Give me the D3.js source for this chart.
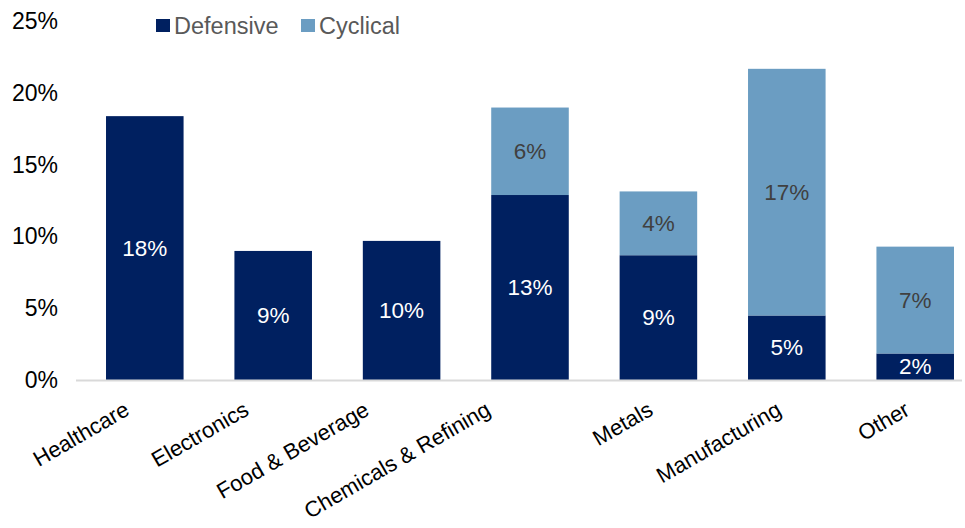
<!DOCTYPE html>
<html>
<head>
<meta charset="utf-8">
<script src="https://cdn.jsdelivr.net/npm/d3@7"></script>
<style>
  html, body { margin: 0; padding: 0; background: #fff; }
  svg { display: block; font-family: "Liberation Sans", Arial, sans-serif; }
</style>
</head>
<body>
<div id="chart"></div>
<script>
// chart data (percent)
var categories = ["Healthcare", "Electronics", "Food & Beverage", "Chemicals & Refining", "Metals", "Manufacturing", "Other"];
var defensive = [18.4, 9.0, 9.7, 12.9, 8.7, 4.5, 1.85];
var cyclical = [0, 0, 0, 6.1, 4.45, 17.2, 7.45];
var seriesNames = ["Defensive", "Cyclical"];
var yTicks = [0, 5, 10, 15, 20, 25];

// Excel pushes the first few rotated labels to the left
var labelNudge = [-10, -19, -27, -34, 0, 0, 0];

var width = 965, height = 528;
var colors = { Defensive: "#002060", Cyclical: "#6B9DC2" };

var svg = d3.select("#chart").append("svg")
    .attr("width", width)
    .attr("height", height);

var x = d3.scaleBand()
    .domain(categories)
    .range([96, 964])
    .paddingInner(0.396)
    .paddingOuter(0.078);

var y = d3.scaleLinear()
    .domain([0, 25])
    .range([380, 21.5]);

// stack the two series
var rows = categories.map(function (c, i) {
    return { cat: c, Defensive: defensive[i], Cyclical: cyclical[i] };
});
var stacked = d3.stack().keys(seriesNames)(rows);

// y axis labels (no line, no ticks)
var yAxis = svg.append("g")
    .attr("transform", "translate(58,0)")
    .call(d3.axisLeft(y).tickValues(yTicks).tickFormat(function (d) { return d + "%"; }).tickSize(0).tickPadding(0));
yAxis.select(".domain").remove();
yAxis.selectAll("text")
    .attr("font-size", 23)
    .attr("font-family", "Liberation Sans, Arial, sans-serif")
    .attr("fill", "#000");

// bars
var layer = svg.selectAll("g.layer")
    .data(stacked)
    .enter().append("g")
    .attr("class", "layer")
    .attr("fill", function (d) { return colors[d.key]; });

layer.selectAll("rect")
    .data(function (d) { return d.map(function (p) { p.key = d.key; return p; }); })
    .enter().append("rect")
    .filter(function (d) { return d[1] - d[0] > 0; })
    .attr("x", function (d) { return x(d.data.cat); })
    .attr("width", x.bandwidth())
    .attr("y", function (d) { return y(d[1]); })
    .attr("height", function (d) { return y(d[0]) - y(d[1]); });

// labels inside the segments
layer.selectAll("text")
    .data(function (d) { return d.filter(function (p) { return p[1] - p[0] > 0; }); })
    .enter().append("text")
    .attr("x", function (d) { return x(d.data.cat) + x.bandwidth() / 2; })
    .attr("y", function (d) { return (y(d[0]) + y(d[1])) / 2; })
    .attr("text-anchor", "middle")
    .attr("dominant-baseline", "central")
    .attr("font-size", 22.5)
    .attr("fill", function (d) { return d.key === "Defensive" ? "#fff" : "#404040"; })
    .text(function (d) { return Math.round(d[1] - d[0]) + "%"; });

// x axis line
svg.append("line")
    .attr("x1", 76).attr("x2", 962)
    .attr("y1", y(0) + 0.5).attr("y2", y(0) + 0.5)
    .attr("stroke", "#d9d9d9")
    .attr("stroke-width", 2);

// rotated category labels
svg.append("g").selectAll("text")
    .data(categories)
    .enter().append("text")
    .attr("transform", function (d, i) {
        var cx = x(d) + x.bandwidth() / 2 - 4 + labelNudge[i];
        return "translate(" + cx + ",414) rotate(-30)";
    })
    .attr("text-anchor", "end")
    .attr("font-size", 22)
    .attr("fill", "#000")
    .text(function (d) { return d; });

// legend
var legend = svg.append("g").selectAll("g")
    .data(seriesNames)
    .enter().append("g")
    .attr("transform", function (d, i) { return "translate(" + (i === 0 ? 156 : 301) + ",19)"; });
legend.append("rect")
    .attr("width", 14).attr("height", 13)
    .attr("fill", function (d) { return colors[d]; });
legend.append("text")
    .attr("x", 18)
    .attr("y", 6.5)
    .attr("dominant-baseline", "central")
    .attr("font-size", 23.5)
    .attr("fill", "#595959")
    .text(function (d) { return d; });
</script>
</body>
</html>
